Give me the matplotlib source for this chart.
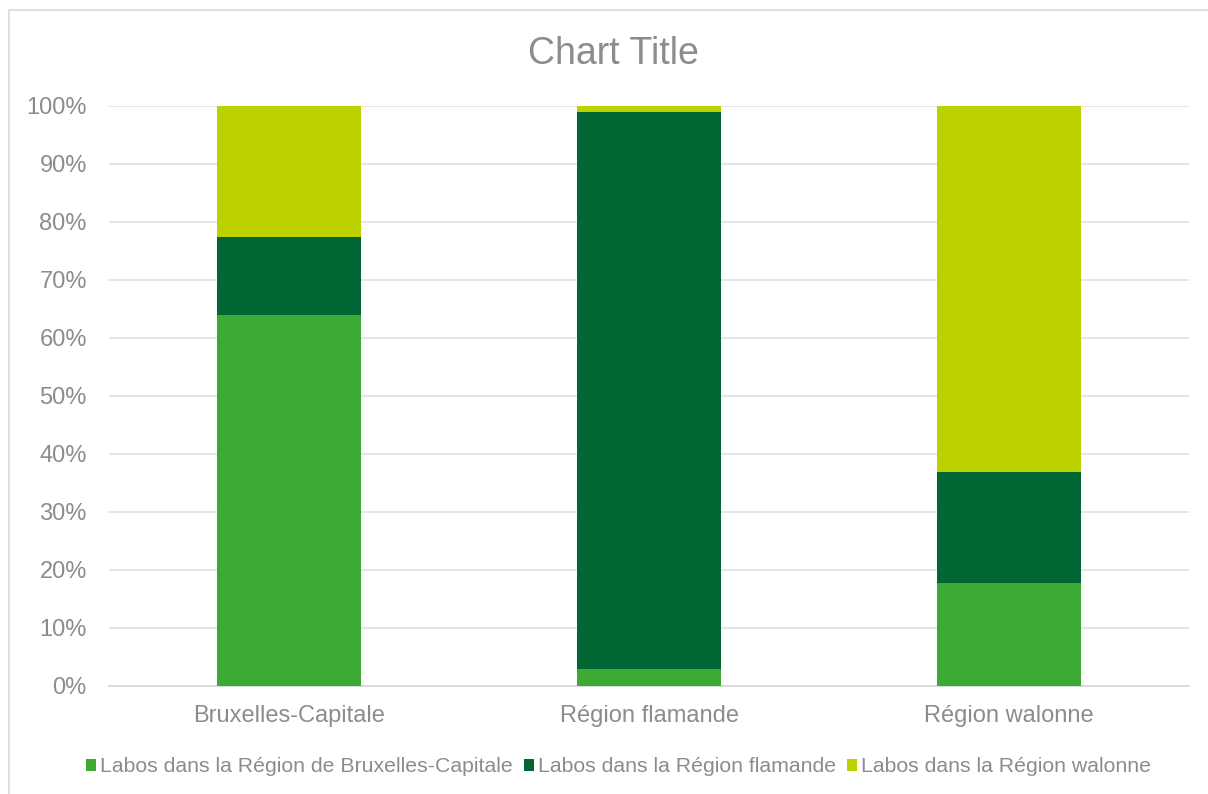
import numpy as np
import matplotlib
matplotlib.use("Agg")
import matplotlib.pyplot as plt
from matplotlib.patches import Rectangle
from matplotlib.ticker import PercentFormatter

plt.rcParams['font.family'] = ['Liberation Sans', 'DejaVu Sans']

# share of labs per patient region (%)
regions = ["Bruxelles-Capitale", "Région flamande", "Région walonne"]
labos_bxl = [64.0, 2.9, 17.8]
labos_fla = [13.4, 96.1, 19.1]
labos_wal = [22.6, 1.0, 63.1]
series_names = ["Labos dans la Région de Bruxelles-Capitale",
                "Labos dans la Région flamande",
                "Labos dans la Région walonne"]
colors = ["#3DAA35", "#006633", "#BDD000"]
text_grey = "#8C8C8C"

fig = plt.figure(figsize=(12.08, 7.94), dpi=100)
# light frame of the chart area
fig.patches.append(Rectangle((8.5 / 1208, -0.01), 1.05, 1 - 10 / 794 + 0.01,
                             transform=fig.transFigure, fill=False,
                             edgecolor="#D9D9D9", lw=1.2))

ax = fig.add_axes([109 / 1208, 1 - 686 / 794, 1080 / 1208, 580 / 794])
x = np.arange(len(regions))
bottom = np.zeros(len(regions))
for vals, name, c in zip([labos_bxl, labos_fla, labos_wal], series_names, colors):
    ax.bar(x, vals, width=0.4, bottom=bottom, color=c, label=name, zorder=3)
    bottom += np.array(vals)

ax.set_xlim(-0.5, 2.5)
ax.set_ylim(0, 100)
ax.set_yticks(np.arange(0, 101, 10))
ax.yaxis.set_major_formatter(PercentFormatter(decimals=0))
ax.set_xticks(x)
ax.set_xticklabels(regions)
ax.grid(axis="y", color="#E3E3E3", lw=1.3, zorder=0)
for s in ["top", "right", "left"]:
    ax.spines[s].set_visible(False)
ax.spines["bottom"].set_color("#D9D9D9")
ax.spines["bottom"].set_linewidth(1.3)
ax.tick_params(axis="y", length=0, pad=16, labelsize=17, labelcolor=text_grey)
ax.tick_params(axis="x", length=0, pad=14, labelsize=17, labelcolor=text_grey)

fig.text(0.5075, 1 - 54 / 794, "Chart Title", ha="center", va="center",
         fontsize=27, color=text_grey)

leg = fig.legend(loc="center", bbox_to_anchor=(0.512, 1 - 767 / 794), ncol=3,
                 frameon=False, fontsize=15.3, handlelength=0.47, handleheight=0.47,
                 handletextpad=0.2, columnspacing=0.5, borderaxespad=0)
for t in leg.get_texts():
    t.set_color(text_grey)

fig.savefig("out.png", dpi=100)
